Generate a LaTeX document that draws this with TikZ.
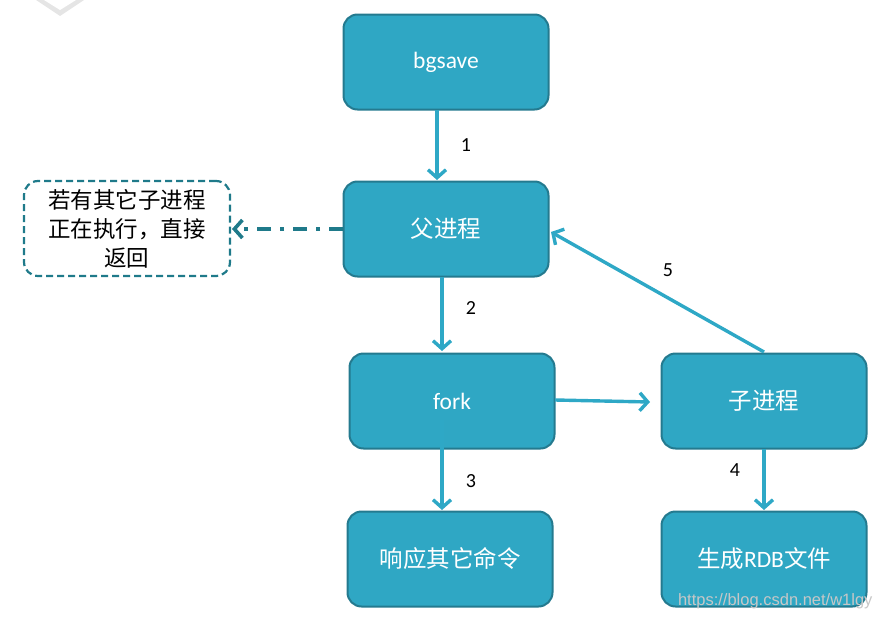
\documentclass[tikz,border=0pt]{standalone}
\usepackage{fontspec}
\setmainfont{Carlito}
\newfontfamily\cjk{Noto Sans CJK SC}
\newfontfamily\wmfont{Liberation Sans}
\usetikzlibrary{arrows.meta}
\definecolor{boxfill}{HTML}{2FA7C4}
\definecolor{boxline}{HTML}{247A8F}
\definecolor{arrowc}{HTML}{2EA8C6}
\definecolor{dashc}{HTML}{1F7A8A}
\tikzset{
  proc/.style={draw=boxline, line width=2pt, fill=boxfill, rounded corners=14pt,
    minimum width=205pt, minimum height=95pt, text=white, font=\fontsize{23.5}{26}\selectfont, inner sep=0pt},
  note/.style={draw=dashc, line width=2.2pt, dash pattern=on 7pt off 4pt, rounded corners=14pt,
    minimum width=206pt, minimum height=95pt, align=center, font=\cjk\fontsize{22.5}{29}\selectfont, inner sep=0pt},
  flow/.style={draw=arrowc, line width=3.4pt, -{Straight Barb[length=8pt,width=18pt,line width=3.4pt]}},
  num/.style={font=\fontsize{20}{22}\selectfont, text=black}
}
\begin{document}
\begin{tikzpicture}[x=1pt,y=-1pt]
\useasboundingbox (0,0) rectangle (884,621);
% top-left artifact
\fill[black!10] (36,0) -- (60,16) -- (84,0) -- cycle;
\fill[white] (44,0) -- (60,10) -- (76,0) -- cycle;

\node[proc] (bg) at (446,62) {bgsave};
\node[proc] (parent) at (446,229) {\cjk 父进程};
\node[proc] (fork) at (452,401) {fork};
\node[proc] (child) at (764,401) {\cjk 子进程};
\node[proc] (resp) at (450,559) {\cjk 响应其它命令};
\node[proc] (rdb) at (764,559) {{\cjk 生成}RDB{\cjk 文件}};
\node[note] (note) at (127,228.5) {若有其它子进程\\正在执行，直接\\返回};

\coordinate (a1s) at (437,110);
\coordinate (a1e) at (437,180);
\draw[flow] (a1s) -- (a1e);
\node[num] (n1) at (466,145) {1};

\coordinate (a2s) at (442,277);
\coordinate (a2e) at (442,351);
\draw[flow] (a2s) -- (a2e);
\node[num] (n2) at (471,308) {2};

\coordinate (a3s) at (442,420);
\coordinate (a3e) at (442,510);
\draw[flow] (a3s) -- (a3e);
\node[num] (n3) at (471,481) {3};

\coordinate (a4s) at (764,449);
\coordinate (a4e) at (764,510);
\draw[flow] (a4s) -- (a4e);
\node[num] (n4) at (735,470) {4};

\coordinate (a5s) at (764,352);
\coordinate (a5e) at (551,232);
\draw[flow] (a5s) -- (a5e);
\node[num] (n5) at (668,270) {5};

\coordinate (fks) at (555,400);
\coordinate (fke) at (650,402);
\draw[flow] (fks) -- (fke);

\coordinate (ds) at (343,229);
\coordinate (de) at (232,229);
\draw[draw=dashc, line width=3.6pt, dash pattern=on 14pt off 9pt on 4pt off 9pt,
  -{Straight Barb[length=8pt,width=18pt,line width=3.6pt]}] (ds) -- (de);

\node[text=black!22, font=\wmfont\fontsize{16.5}{18}\selectfont, anchor=east] (wm) at (876,601) {https://blog.csdn.net/w1lgy};
\end{tikzpicture}
\end{document}
